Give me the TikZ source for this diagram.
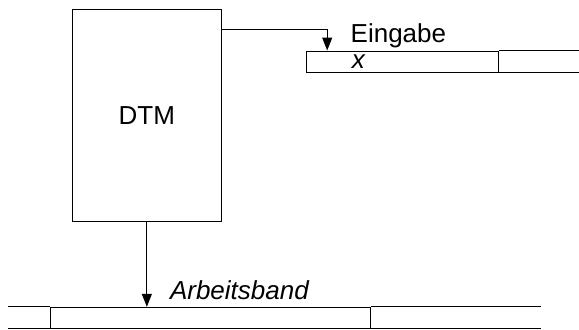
\documentclass[tikz,border=0pt]{standalone}
\usepackage{fontspec}
\setmainfont{Liberation Sans}
\usepackage{tikz}
\usetikzlibrary{positioning, arrows.meta}

\begin{document}
\begin{tikzpicture}[
  x=0.5pt, y=0.5pt,
  font=\fontsize{13}{15.6}\selectfont,
  line width=0.5pt,
  dtmbox/.style={draw, minimum width=74.85pt, minimum height=106.35pt,
    inner sep=0pt},
  cell/.style={draw, minimum height=10.5pt, inner sep=0pt},
  lbl/.style={inner sep=0pt, anchor=base west},
  arrow/.style={-{Triangle[length=6.5pt, width=5pt]}},
]
  \useasboundingbox (0,0) rectangle (579,329);

  \node[dtmbox] (dtm) at (146.85,213.65) {DTM};

  % Eingabeband
  \node[cell, minimum width=95.65pt] (ein) at (402.35,267.5) {};
  \draw (ein.north east) -- +(81,0) (ein.south east) -- +(81,0);
  \node[lbl] (einlbl) at ([xshift=22pt, yshift=4.15pt]ein.north west) {Eingabe};
  \node[lbl] (einx) at ([xshift=22.6pt, yshift=1.85pt]ein.south west) {\textit{x}};

  % Arbeitsband
  \node[cell, minimum width=160pt] (arb) at (210.7,11.2) {};
  \draw (arb.north west) -- +(-42.7,0) (arb.south west) -- +(-42.7,0);
  \draw (arb.north east) -- +(170,0) (arb.south east) -- +(170,0);
  \node[lbl] (arblbl) at ([xshift=59.65pt, yshift=3.65pt]arb.north west)
    {\textit{Arbeitsband}};

  \draw[arrow] ([yshift=-10.5pt]dtm.north east) -| ([xshift=10.5pt]ein.north west);
  \draw[arrow] (dtm.south) -- (dtm.south |- arb.north);
\end{tikzpicture}
\end{document}
